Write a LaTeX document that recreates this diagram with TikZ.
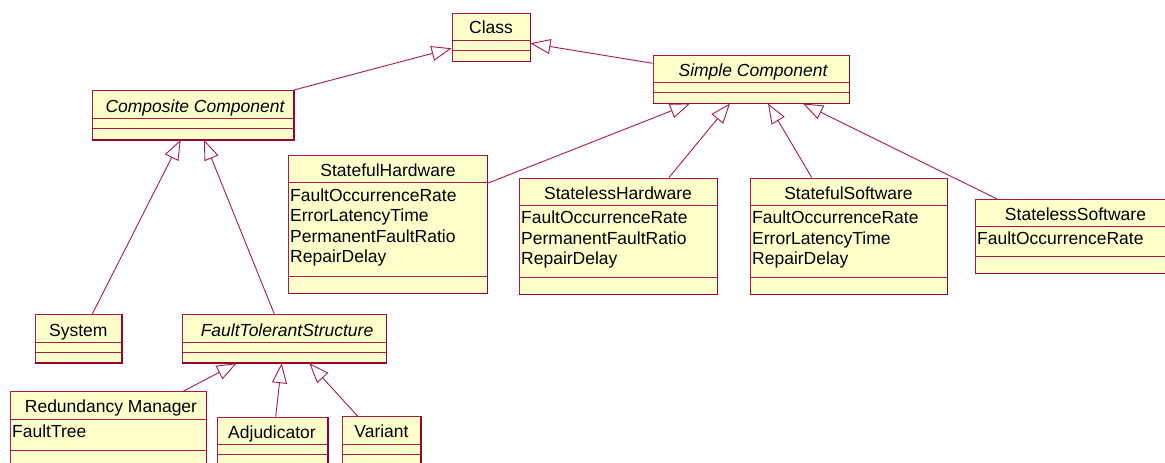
\documentclass[tikz,border=0pt]{standalone}
\usepackage{fontspec}
\setmainfont{Liberation Sans}
\usetikzlibrary{arrows.meta,fit}

\definecolor{umlline}{HTML}{A81A4C}
\definecolor{umldark}{HTML}{990033}
\definecolor{umlfill}{HTML}{FFFFCC}

\tikzset{
  umlbox/.style={draw=umlline, fill=umlfill, line width=1pt, inner sep=0pt, rectangle},
  shade edge/.style={draw=umldark, line width=1.6pt},
  divline/.style={draw=umlline, line width=1pt},
  title/.style={anchor=base, inner sep=0pt, font=\fontsize{17.5}{20.5}\selectfont},
  ititle/.style={title, font=\fontsize{17.5}{20.5}\selectfont\itshape},
  attr/.style={anchor=base west, inner sep=0pt, font=\fontsize{17.5}{20.5}\selectfont},
  gen/.style={draw=umlline, line width=0.9pt,
    -{Triangle[open, length=20pt, width=15pt, line width=0.9pt]}},
}

% class box: name, x1, y1, x2, y2, first divider, second divider
\newcommand{\umlclassbox}[7]{%
  \node[umlbox, fit={(#2,#3) (#4,#5)}] (#1) {};
  \draw[shade edge] (#1.south west) -- (#1.south east) -- (#1.north east);
  \draw[divline] (#1.west |- 0,#6) -- (#1.east |- 0,#6);
  \draw[divline] (#1.west |- 0,#7) -- (#1.east |- 0,#7);
}

\begin{document}
\begin{tikzpicture}[x=1pt, y=-1pt]
\useasboundingbox (0,0) rectangle (1165,463);
\fill[white] (0,0) rectangle (1165,463);
\clip (0,0) rectangle (1165,463);

% ---- class boxes ----
\umlclassbox{cls}{452}{13.3}{530}{61}{40.3}{50.7}
\node[title] (cls-t) at (491,34) {Class};

\umlclassbox{comp}{92.5}{90.5}{293.5}{139.3}{118.7}{128.7}
\node[ititle] (comp-t) at (195,112) {Composite Component};

\umlclassbox{simple}{653}{55}{849}{103}{82.7}{92.7}
\node[ititle] (simple-t) at (753,76.5) {Simple Component};

\umlclassbox{sfhw}{288}{155.5}{487}{293}{182.7}{276}
\node[title] (sfhw-t) at (388,176.3) {StatefulHardware};
\node[attr] (sfhw-a1) at (290,201) {FaultOccurrenceRate};
\node[attr] (sfhw-a2) at (290,221.5) {ErrorLatencyTime};
\node[attr] (sfhw-a3) at (290,242) {PermanentFaultRatio};
\node[attr] (sfhw-a4) at (290,262.5) {RepairDelay};

\umlclassbox{slhw}{519}{178}{717}{294}{205.7}{277.7}
\node[title] (slhw-t) at (618,199.3) {StatelessHardware};
\node[attr] (slhw-a1) at (521,223.8) {FaultOccurrenceRate};
\node[attr] (slhw-a2) at (521,244.3) {PermanentFaultRatio};
\node[attr] (slhw-a3) at (521,264.8) {RepairDelay};

\umlclassbox{sfsw}{750}{178}{947}{294}{205.7}{277.7}
\node[title] (sfsw-t) at (848.5,199.3) {StatefulSoftware};
\node[attr] (sfsw-a1) at (752,223.8) {FaultOccurrenceRate};
\node[attr] (sfsw-a2) at (752,244.3) {ErrorLatencyTime};
\node[attr] (sfsw-a3) at (752,264.8) {RepairDelay};

\umlclassbox{slsw}{975}{199.3}{1176}{273}{226.7}{256.7}
\node[title] (slsw-t) at (1075.5,220.3) {StatelessSoftware};
\node[attr] (slsw-a1) at (977,244.8) {FaultOccurrenceRate};

\umlclassbox{sys}{35}{314.5}{121.7}{362.7}{342.3}{352.3}
\node[title] (sys-t) at (78.3,336) {System};

\umlclassbox{fts}{182.3}{314.5}{386}{362.7}{342.3}{352.3}
\node[ititle] (fts-t) at (287,336) {FaultTolerantStructure};

\umlclassbox{rm}{10}{391.7}{206}{490}{419}{450}
\node[title] (rm-t) at (111,412.5) {Redundancy Manager};
\node[attr] (rm-a1) at (12,437) {FaultTree};

\umlclassbox{adj}{217}{417.3}{327.3}{490}{444.3}{454.3}
\node[title] (adj-t) at (272,438) {Adjudicator};

\umlclassbox{var}{342.3}{416.7}{420.7}{490}{444}{454}
\node[title] (var-t) at (381.5,437.5) {Variant};

% ---- generalisations ----
\draw[gen] (comp.north east) -- (cls.west |- 0,48.3);
\draw[gen] (simple.west |- 0,63.3) -- (cls.east |- 0,43.3);

\draw[gen] (sfhw.east |- 0,183.3) -- (simple.south -| 690,0);
\draw[gen] (slhw.north -| 669,0) -- (simple.south -| 730,0);
\draw[gen] (sfsw.north -| 811.7,0) -- (simple.south -| 768,0);
\draw[gen] (slsw.north -| 996.7,0) -- (simple.south -| 803,0);

\draw[gen] (sys.north -| 92.3,0) -- (comp.south -| 180.7,0);
\draw[gen] (fts.north -| 274.3,0) -- (comp.south -| 204,0);

\draw[gen] (rm.north -| 183.3,0) -- (fts.south -| 236.7,0);
\draw[gen] (adj.north -| 275.7,0) -- (fts.south -| 281.7,0);
\draw[gen] (var.north -| 357.7,0) -- (fts.south -| 309.3,0);
\end{tikzpicture}
\end{document}
